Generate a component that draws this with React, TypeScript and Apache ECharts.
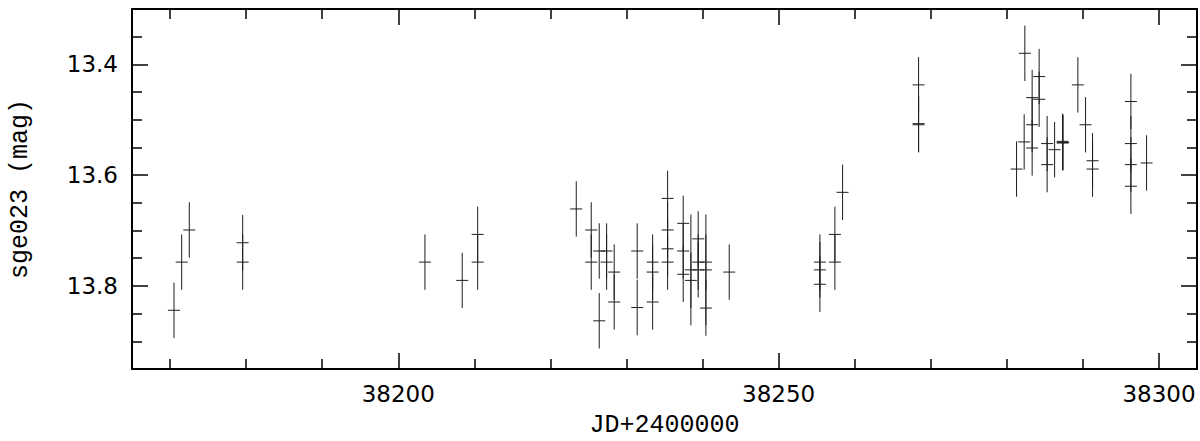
import React, { useEffect, useRef } from "react";
import * as echarts from "echarts";

// Observation epochs (JD - 2400000)
const jd = [
  38170.52, 38171.53, 38172.53, 38179.55, 38179.55, 38203.51, 38208.41, 38210.44, 38210.44,
  38223.40, 38225.37, 38225.37, 38226.42, 38226.42, 38227.39, 38227.39, 38228.39, 38228.39,
  38231.41, 38231.41, 38233.44, 38233.44, 38233.44, 38235.41, 38235.41, 38235.41, 38235.41,
  38237.46, 38237.46, 38237.46, 38238.47, 38238.47, 38239.43, 38239.43, 38239.43, 38240.44,
  38240.44, 38240.44, 38243.51, 38255.43, 38255.43, 38255.43, 38257.40, 38257.40, 38258.41,
  38268.40, 38268.40, 38268.40, 38281.28, 38282.28, 38282.37, 38283.33, 38283.33, 38283.33,
  38284.25, 38284.25, 38285.30, 38285.30, 38286.28, 38287.33, 38287.33, 38287.40, 38289.34,
  38290.35, 38291.27, 38291.27, 38296.31, 38296.31, 38296.31, 38296.31, 38298.37,
];

// Magnitudes
const mag = [
  13.844, 13.757, 13.699, 13.722, 13.757, 13.757, 13.790, 13.707, 13.757,
  13.661, 13.699, 13.757, 13.737, 13.863, 13.737, 13.757, 13.775, 13.829,
  13.737, 13.839, 13.757, 13.775, 13.829, 13.642, 13.699, 13.733, 13.757,
  13.687, 13.737, 13.779, 13.771, 13.790, 13.715, 13.757, 13.771, 13.757,
  13.771, 13.840, 13.775, 13.757, 13.771, 13.797, 13.707, 13.757, 13.631,
  13.437, 13.509, 13.507, 13.589, 13.540, 13.380, 13.460, 13.509, 13.551,
  13.422, 13.463, 13.543, 13.581, 13.554, 13.539, 13.542, 13.541, 13.437,
  13.509, 13.574, 13.589, 13.467, 13.543, 13.581, 13.620, 13.578,
];

// Magnitude errors
const magErr = [
  0.05, 0.05, 0.05, 0.05, 0.05, 0.05, 0.05, 0.05, 0.05,
  0.05, 0.05, 0.05, 0.05, 0.05, 0.05, 0.05, 0.05, 0.05,
  0.05, 0.05, 0.05, 0.05, 0.05, 0.05, 0.05, 0.05, 0.05,
  0.05, 0.05, 0.05, 0.10, 0.05, 0.05, 0.05, 0.05, 0.05,
  0.10, 0.05, 0.05, 0.05, 0.05, 0.05, 0.05, 0.05, 0.05,
  0.05, 0.05, 0.05, 0.05, 0.05, 0.05, 0.05, 0.05, 0.05,
  0.05, 0.05, 0.05, 0.05, 0.05, 0.05, 0.05, 0.05, 0.05,
  0.05, 0.05, 0.05, 0.05, 0.05, 0.05, 0.05, 0.05,
];

const xMajorTicks = [38200, 38250, 38300];
const xMinorTicks = [38170, 38180, 38190, 38210, 38220, 38230, 38240, 38260, 38270, 38280, 38290];
const yMajorTicks = [13.4, 13.6, 13.8];
const yMinorTicks = [13.35, 13.45, 13.5, 13.55, 13.65, 13.7, 13.75, 13.85, 13.9];

const X_MIN = 38165;
const X_MAX = 38305;
const Y_MIN = 13.3;
const Y_MAX = 13.95;

export default function App() {
  const ref = useRef<HTMLDivElement>(null);

  useEffect(() => {
    if (!ref.current) return;
    const chart = echarts.init(ref.current, null, { renderer: "svg" });

    const frameLine = { show: true, lineStyle: { color: "#000", width: 2 } };
    const majorTick = (vals: number[]) => ({
      show: true,
      inside: true,
      length: 16,
      customValues: vals,
      lineStyle: { color: "#000", width: 1.5 },
    });
    const minorTick = (vals: number[]) => ({
      show: true,
      inside: true,
      length: 10,
      customValues: vals,
      lineStyle: { color: "#000", width: 1.5 },
    });

    const baseX = { type: "value", min: X_MIN, max: X_MAX, splitLine: { show: false } };
    const baseY = { type: "value", min: Y_MIN, max: Y_MAX, inverse: true, splitLine: { show: false } };

    const option: any = {
      animation: false,
      backgroundColor: "#fff",
      grid: {
        left: 132,
        right: 3,
        top: 9,
        bottom: 72,
        containLabel: false,
        outerBoundsMode: "none",
      },
      xAxis: [
        {
          ...baseX,
          position: "bottom",
          axisLine: frameLine,
          axisTick: majorTick(xMajorTicks),
          axisLabel: {
            show: true,
            customValues: xMajorTicks,
            formatter: (v: number) => String(Math.round(v)),
            margin: 13,
            color: "#000",
            fontFamily: "DejaVu Sans",
            fontSize: 23,
          },
          name: "JD+2400000",
          nameLocation: "middle",
          nameGap: 44,
          nameTextStyle: { color: "#000", fontFamily: "Liberation Mono", fontSize: 25 },
        },
        { ...baseX, position: "bottom", axisLine: { show: false }, axisTick: minorTick(xMinorTicks), axisLabel: { show: false } },
        { ...baseX, position: "top", axisLine: frameLine, axisTick: majorTick(xMajorTicks), axisLabel: { show: false } },
        { ...baseX, position: "top", axisLine: { show: false }, axisTick: minorTick(xMinorTicks), axisLabel: { show: false } },
      ],
      yAxis: [
        {
          ...baseY,
          position: "left",
          axisLine: frameLine,
          axisTick: majorTick(yMajorTicks),
          axisLabel: {
            show: true,
            customValues: yMajorTicks,
            formatter: (v: number) => v.toFixed(1),
            margin: 14,
            color: "#000",
            fontFamily: "DejaVu Sans",
            fontSize: 23,
          },
          name: "sge023 (mag)",
          nameLocation: "middle",
          nameGap: 99,
          nameTextStyle: { color: "#000", fontFamily: "Liberation Mono", fontSize: 25 },
        },
        { ...baseY, position: "left", axisLine: { show: false }, axisTick: minorTick(yMinorTicks), axisLabel: { show: false } },
        { ...baseY, position: "right", axisLine: frameLine, axisTick: majorTick(yMajorTicks), axisLabel: { show: false } },
        { ...baseY, position: "right", axisLine: { show: false }, axisTick: minorTick(yMinorTicks), axisLabel: { show: false } },
      ],
      series: [
        {
          type: "custom",
          xAxisIndex: 0,
          yAxisIndex: 0,
          data: jd.map((d, i) => [d, mag[i], magErr[i]]),
          encode: { x: 0, y: 1 },
          renderItem: (params: any, api: any) => {
            const x = api.value(0);
            const y = api.value(1);
            const e = api.value(2);
            const top = api.coord([x, y - e]);
            const bot = api.coord([x, y + e]);
            const mid = api.coord([x, y]);
            const style = { stroke: "#1e1e1e", lineWidth: 1 };
            return {
              type: "group",
              children: [
                { type: "line", shape: { x1: top[0], y1: top[1], x2: bot[0], y2: bot[1] }, style },
                { type: "line", shape: { x1: mid[0] - 6, y1: mid[1], x2: mid[0] + 6, y2: mid[1] }, style },
              ],
            };
          },
        },
      ],
    };

    chart.setOption(option);
    return () => chart.dispose();
  }, []);

  return (
    <div
      ref={ref}
      style={{ position: "fixed", left: 0, top: 0, width: "1200px", height: "441px", background: "#fff" }}
    />
  );
}
